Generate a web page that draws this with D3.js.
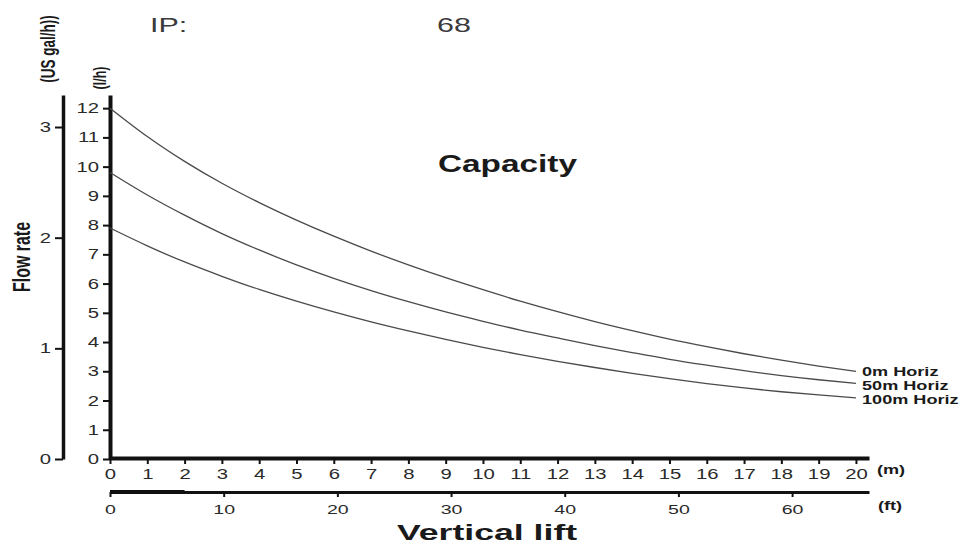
<!DOCTYPE html>
<html>
<head>
<meta charset="utf-8">
<script src="https://cdn.jsdelivr.net/npm/d3@7"></script>
<style>
  html, body { margin: 0; padding: 0; background: #fff; }
  svg { display: block; font-family: "Liberation Sans", Arial, sans-serif; }
</style>
</head>
<body>
<svg id="chart" width="971" height="545"></svg>
<script>
// ---- data ----
const lift = [0,1,2,3,4,5,6,7,8,9,10,11,12,13,14,15,16,17,18,19,20];          // m
const flow0m   = [12.0,11.03,10.18,9.43,8.77,8.17,7.62,7.11,6.64,6.20,5.79,5.40,5.04,4.70,4.39,4.10,3.84,3.60,3.38,3.18,3.00];
const flow50m  = [9.8,9.03,8.34,7.71,7.15,6.64,6.18,5.76,5.38,5.03,4.71,4.41,4.14,3.88,3.64,3.41,3.21,3.02,2.85,2.71,2.59];
const flow100m = [7.9,7.29,6.74,6.25,5.80,5.40,5.03,4.69,4.38,4.09,3.82,3.57,3.34,3.13,2.93,2.75,2.58,2.43,2.30,2.19,2.09];
const seriesNames = ["0m Horiz", "50m Horiz", "100m Horiz"];
const lhTicks  = [0,1,2,3,4,5,6,7,8,9,10,11,12];
const galTicks = [0,1,2,3];
const mTicks   = [0,1,2,3,4,5,6,7,8,9,10,11,12,13,14,15,16,17,18,19,20];
const ftTicks  = [0,10,20,30,40,50,60];
const LITRES_PER_GAL = 3.785;
const FT_PER_M = 1 / 0.3048;

// ---- setup ----
const svg = d3.select("#chart");
const SX = 1.45; // horizontal stretch of the original lettering

const x  = d3.scaleLinear().domain([0, 20.35]).range([110, 869]);
const xf = d3.scaleLinear().domain([0, 20.35 * FT_PER_M]).range([110, 869]);
const y  = d3.scaleLinear().domain([0, 12.45]).range([459, 95]);
const yg = d3.scaleLinear().domain([0, 12.45 / LITRES_PER_GAL]).range([459, 95]);

function label(str, px, py, opt) {
  opt = opt || {};
  const sx = opt.sx || SX;
  const t = svg.append("text")
    .text(str)
    .attr("font-size", opt.size || 14)
    .attr("font-weight", opt.weight || "normal")
    .attr("fill", opt.fill || "#222")
    .attr("text-anchor", opt.anchor || "start");
  if (opt.rotate) {
    t.attr("transform", `translate(${px},${py}) rotate(-90) scale(1,${sx})`);
  } else {
    t.attr("transform", `translate(${px},${py}) scale(${sx},1)`);
  }
  return t;
}

function styleAxis(g, lineW, tickW, fs) {
  g.select(".domain").attr("stroke", "#111").attr("stroke-width", lineW);
  g.selectAll(".tick line").attr("stroke", "#111").attr("stroke-width", tickW);
  g.selectAll(".tick text")
    .attr("fill", "#2a2a2a")
    .attr("font-size", fs || 14)
    .attr("font-family", "'Liberation Sans', Arial, sans-serif");
}

// ---- axes ----
// l/h axis
const gL = svg.append("g").attr("transform", "translate(110,0)")
  .call(d3.axisLeft(y).tickValues(lhTicks).tickSize(7).tickSizeOuter(0).tickPadding(4).tickFormat(d3.format("d")));
styleAxis(gL, 4, 2);
gL.selectAll(".tick text").attr("x", -11 / SX).attr("transform", `scale(${SX},1)`);

// US gal/h axis
const gG = svg.append("g").attr("transform", "translate(63,0)")
  .call(d3.axisLeft(yg).tickValues(galTicks).tickSize(8).tickSizeOuter(0).tickFormat(d3.format("d")));
styleAxis(gG, 3.5, 2);
gG.selectAll(".tick text").attr("x", -12 / SX).attr("transform", `scale(${SX},1)`);

// m axis
const gM = svg.append("g").attr("transform", "translate(0,458)")
  .call(d3.axisBottom(x).tickValues(mTicks).tickSize(6).tickSizeOuter(0).tickFormat(d3.format("d")));
styleAxis(gM, 4, 2);
gM.selectAll(".tick text").attr("y", 11).attr("dy", "0.71em").attr("transform", `scale(${SX},1)`)
  .attr("x", 0);

// ft axis
const gF = svg.append("g").attr("transform", "translate(0,492)")
  .call(d3.axisBottom(xf).tickValues(ftTicks).tickSize(5).tickSizeOuter(0).tickFormat(d3.format("d")));
styleAxis(gF, 3, 2, 13.5);
gF.selectAll(".tick text").attr("y", 12).attr("dy", "0.71em").attr("transform", `scale(${SX},1)`);
// heavier start of the ft rule
svg.append("line").attr("x1", xf(0)).attr("x2", x(2)).attr("y1", 492).attr("y2", 492)
  .attr("stroke", "#111").attr("stroke-width", 4);

// ---- curves ----
const line = d3.line().x((d, i) => x(lift[i])).y(d => y(d)).curve(d3.curveNatural);
const allSeries = [flow0m, flow50m, flow100m];
svg.append("g").selectAll("path").data(allSeries).join("path")
  .attr("d", d => line(d))
  .attr("fill", "none")
  .attr("stroke", "#4a4a4a")
  .attr("stroke-width", 1.3);

// curve labels
const labelY = [376, 390, 404];
seriesNames.forEach((n, i) => {
  label(n, 862, labelY[i], { size: 12.5, weight: "bold", fill: "#1a1a1a" });
});

// ---- texts ----
label("IP:", 150, 32, { size: 21, fill: "#3a3a3a" });
label("68", 437, 32, { size: 21, fill: "#3a3a3a" });
label("Capacity", 438, 172, { size: 23, weight: "bold", fill: "#1a1a1a" });
label("Vertical lift", 487, 540, { size: 22, weight: "bold", fill: "#1a1a1a", anchor: "middle", sx: 1.62 });
label("(m)", 877, 474, { size: 12.5, weight: "bold", fill: "#1a1a1a" });
label("(ft)", 878, 510, { size: 12.5, weight: "bold", fill: "#1a1a1a" });
label("Flow rate", 30, 257, { size: 16, weight: "bold", fill: "#1a1a1a", anchor: "middle", rotate: true });
label("(US gal/h))", 55, 49, { size: 13.5, weight: "bold", fill: "#1a1a1a", anchor: "middle", rotate: true });
label("(l/h)", 106, 78, { size: 12.5, weight: "bold", fill: "#1a1a1a", anchor: "middle", rotate: true });
</script>
</body>
</html>
